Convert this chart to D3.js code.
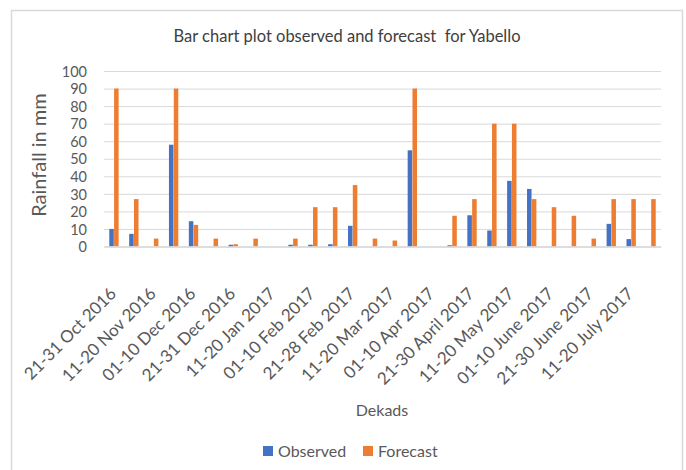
<!DOCTYPE html>
<html>
<head>
<meta charset="utf-8">
<script src="https://cdn.jsdelivr.net/npm/d3@7"></script>
<style>
  body { margin: 0; background: #fff; }
  text { font-family: Lato, "Open Sans", sans-serif; fill: #595959; }
</style>
</head>
<body>
<div id="chart"></div>
<script>
// dekads and rainfall (mm)
const dekads = [
  "21-31 Oct 2016", "01-10 Nov 2016", "11-20 Nov 2016", "21-30 Nov 2016",
  "01-10 Dec 2016", "11-20 Dec 2016", "21-31 Dec 2016", "01-10 Jan 2017",
  "11-20 Jan 2017", "21-31 Jan 2017", "01-10 Feb 2017", "11-20 Feb 2017",
  "21-28 Feb 2017", "01-10 Mar 2017", "11-20 Mar 2017", "21-31 Mar 2017",
  "01-10 Apr 2017", "11-20 Apr 2017", "21-30 April 2017", "01-10 May 2017",
  "11-20 May 2017", "21-31 May 2017", "01-10 June 2017", "11-20 June 2017",
  "21-30 June 2017", "01-10 July 2017", "11-20 July 2017", "21-31 July 2017"
];
const observed = [10, 7.2, 0, 58, 14.4, 0, 1, 0, 0, 1, 1, 1.3, 11.8, 0,
  0, 54.8, 0, 0.7, 17.8, 9.1, 37.4, 32.8, 0, 0, 0, 12.9, 4.2, 0];
const forecast = [90, 27, 4.5, 90, 12.3, 4.5, 1.3, 4.5, 0, 4.5, 22.4, 22.4, 35, 4.5,
  3.4, 90, 0, 17.5, 27, 70, 70, 27, 22.4, 17.5, 4.5, 27, 27, 27];
const series = ["Observed", "Forecast"];
const yTicks = [0, 10, 20, 30, 40, 50, 60, 70, 80, 90, 100];

const colors = { Observed: "#4472C4", Forecast: "#ED7D31" };

let margin = { top: 71, left: 104, right: 25, bottom: 223.5 },
  W = 686, H = 470,
  width = W - margin.left - margin.right,
  height = H - margin.top - margin.bottom;

let svg = d3.select("#chart").append("svg")
  .attr("width", W)
  .attr("height", H);

// chart frame
svg.append("path")
  .attr("d", `M11.5,${H} V10.5 H682.5 V${H}`)
  .attr("fill", "none")
  .attr("stroke", "#d9d9d9")
  .attr("stroke-width", 1.5);

svg.append("text")
  .attr("x", 347).attr("y", 42)
  .attr("text-anchor", "middle")
  .style("font-size", "16.5px")
  .style("white-space", "pre")
  .style("fill", "#404040")
  .text("Bar chart plot observed and forecast  for Yabello");

let g = svg.append("g").attr("transform", `translate(${margin.left},${margin.top})`);

const x0 = d3.scaleBand().domain(dekads).range([0, width]).padding(0);
const x1 = d3.scaleBand().domain(series)
  .range([x0.bandwidth() * 0.265, x0.bandwidth() * 0.735])
  .paddingInner(0.06);
const y = d3.scaleLinear().domain([0, 100]).range([height, 0]);

// gridlines
g.append("g")
  .call(d3.axisLeft(y).tickValues(yTicks).tickSize(-width).tickFormat(""))
  .call(a => a.select(".domain").remove())
  .call(a => a.selectAll("line").attr("stroke", "#d9d9d9"));

// y tick labels
g.append("g")
  .call(d3.axisLeft(y).tickValues(yTicks).tickSize(0).tickPadding(17))
  .call(a => a.select(".domain").remove())
  .call(a => a.selectAll("text").style("font-size", "14.5px").attr("dy", "0.36em"));

// bars
const rows = dekads.map((d, i) => ({ dekad: d, Observed: observed[i], Forecast: forecast[i] }));
g.append("g").selectAll("g")
  .data(rows)
  .join("g")
  .attr("transform", d => `translate(${x0(d.dekad)},0)`)
  .selectAll("rect")
  .data(d => series.map(s => ({ key: s, value: d[s] })).filter(v => v.value > 0))
  .join("rect")
  .attr("x", d => x1(d.key))
  .attr("y", d => y(d.value))
  .attr("width", x1.bandwidth())
  .attr("height", d => y(0) - y(d.value))
  .attr("fill", d => colors[d.key]);

// x axis, every other dekad labelled
const xAxis = g.append("g")
  .attr("transform", `translate(0,${height})`)
  .call(d3.axisBottom(x0).tickValues(dekads.filter((d, i) => i % 2 === 0)).tickSize(0).tickPadding(0));
xAxis.select(".domain").attr("stroke", "#d9d9d9").attr("stroke-width", 1.5);
xAxis.selectAll("text")
  .style("font-size", "17px")
  .attr("text-anchor", "end")
  .attr("dy", "0.35em")
  .attr("transform", "translate(-1,44) rotate(-45)")
  .attr("y", 0);

// axis titles
svg.append("text")
  .attr("transform", "translate(46,155) rotate(-90)")
  .attr("text-anchor", "middle")
  .style("font-size", "20px")
  .text("Rainfall in mm");

svg.append("text")
  .attr("x", 382).attr("y", 416)
  .attr("text-anchor", "middle")
  .style("font-size", "16px")
  .text("Dekads");

// legend
const legend = svg.append("g").attr("transform", "translate(263,446)");
const legX = [0, 100];
series.forEach((s, i) => {
  legend.append("rect")
    .attr("x", legX[i]).attr("y", 0)
    .attr("width", 10).attr("height", 10)
    .attr("fill", colors[s]);
  legend.append("text")
    .attr("x", legX[i] + 15).attr("y", 11)
    .style("font-size", "16px")
    .text(s);
});
</script>
</body>
</html>
